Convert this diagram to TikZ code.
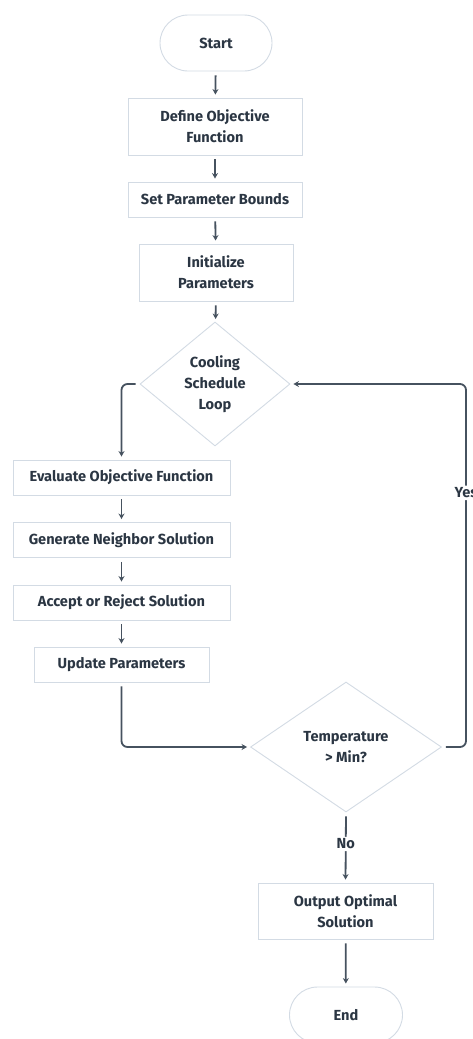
\documentclass[tikz,border=0pt]{standalone}
\usepackage{fontspec}
\setmainfont{Fira Sans}
\usetikzlibrary{shapes.geometric,arrows.meta}
\definecolor{ink}{HTML}{2B3643}
\definecolor{edge}{HTML}{D3DBE4}
\definecolor{wire}{HTML}{46525F}
\tikzset{
  base/.style={draw=edge, line width=0.9pt, fill=white, text=ink,
    font=\fontsize{14.6}{21}\selectfont\bfseries, align=center, inner sep=0pt},
  stepbox/.style={base, rectangle},
  terminal/.style={base, rectangle, rounded corners=28pt,
    minimum width=112pt, minimum height=56pt},
  decision/.style={base, diamond},
  flow/.style={draw=wire, line width=1.8pt, rounded corners=6pt,
    -{Stealth[length=5.5pt,width=6pt]}, shorten <=4pt, shorten >=3pt},
  lbl/.style={fill=white, text=ink, font=\fontsize{14.6}{16}\selectfont\bfseries,
    inner sep=2pt}
}
\begin{document}
\begin{tikzpicture}[x=1pt,y=-1pt]
\useasboundingbox (0,0) rectangle (472,1039);

% main column
\node[terminal] (start) at (216,43) {Start};
\node[stepbox, minimum width=174pt, minimum height=57pt] (def) at (215,126.5) {Define Objective\\Function};
\node[stepbox, minimum width=174pt, minimum height=35pt] (bounds) at (215,199.5) {Set Parameter Bounds};
\node[stepbox, minimum width=154pt, minimum height=57pt] (init) at (216,272.5) {Initialize\\Parameters};
\node[decision, minimum width=150pt, minimum height=124pt] (cool) at (215,384) {Cooling\\Schedule\\Loop};

% loop body
\node[stepbox, minimum width=217pt, minimum height=35pt] (eval) at (121.5,477.5) {Evaluate Objective Function};
\node[stepbox, minimum width=217pt, minimum height=35pt] (gen) at (121.5,540) {Generate Neighbor Solution};
\node[stepbox, minimum width=217pt, minimum height=35pt] (acc) at (121.5,602.5) {Accept or Reject Solution};
\node[stepbox, minimum width=175pt, minimum height=35pt] (upd) at (121.5,664.5) {Update Parameters};

% exit test and finish
\node[decision, minimum width=191pt, minimum height=130pt] (temp) at (346,747) {Temperature\\> Min?};
\node[stepbox, minimum width=175pt, minimum height=56pt] (out) at (345.5,911) {Output Optimal\\Solution};
\node[terminal, minimum width=113pt] (end) at (346,1015) {End};

\coordinate (yb) at (466,747);
\coordinate (yt) at (466,384);

% connectors
\draw[flow] (start) -- (def);
\draw[flow] (def) -- (bounds);
\draw[flow] (bounds) -- (init);
\draw[flow] (init) -- (cool);
\draw[flow] (cool.west) -| (eval.north);
\draw[flow] (eval) -- (gen);
\draw[flow] (gen) -- (acc);
\draw[flow] (acc) -- (upd);
\draw[flow] (upd.south) |- (temp.west);
\draw[flow] (temp.east) -- (yb) -- node[lbl, pos=0.7] {Yes} (yt) -- (cool.east);
\draw[flow] (temp.south) -- node[lbl, pos=0.45] {No} (out.north);
\draw[flow] (out) -- (end);
\end{tikzpicture}
\end{document}
